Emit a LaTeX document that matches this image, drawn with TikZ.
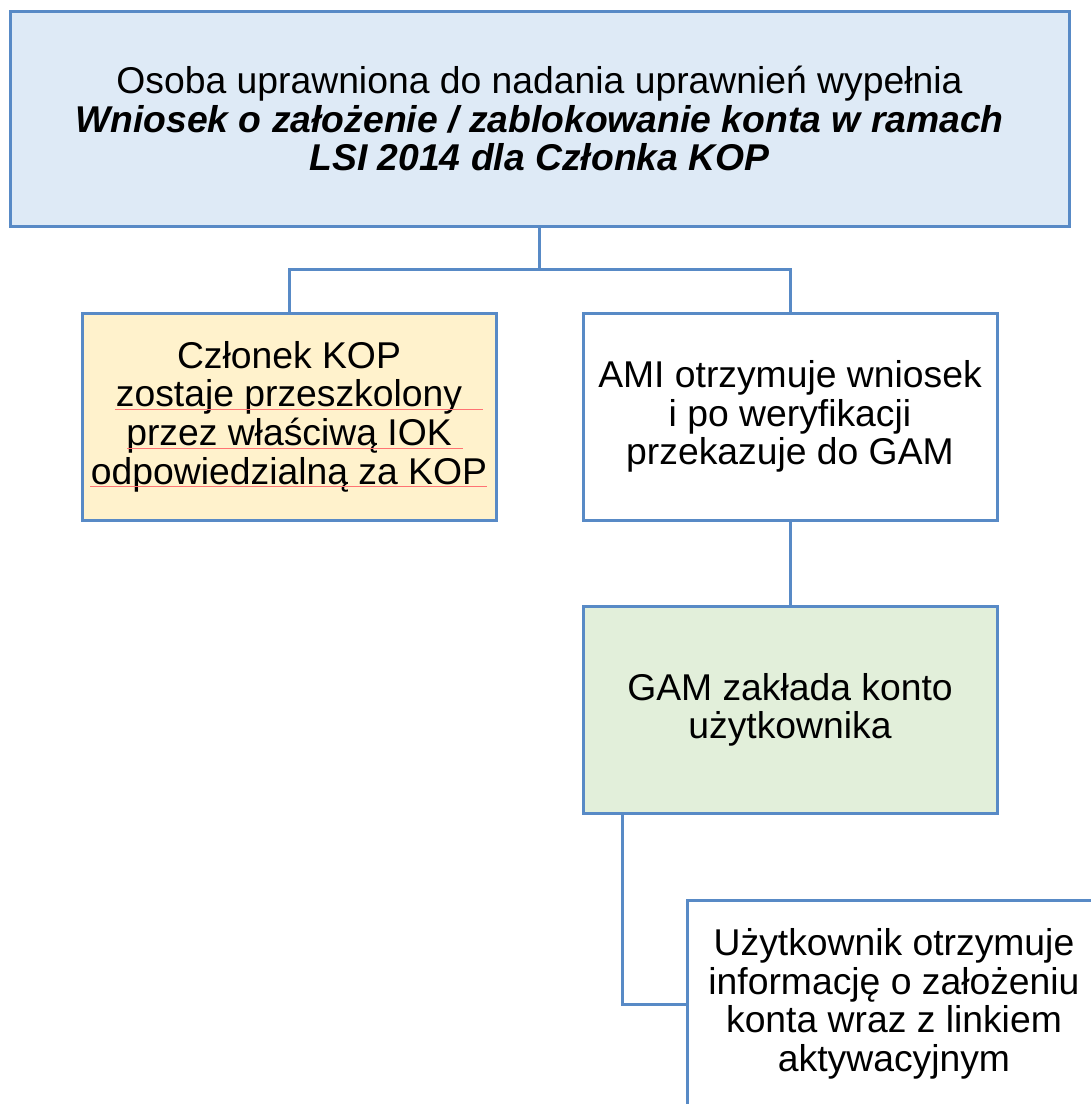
\documentclass[tikz,border=0pt]{standalone}
\usepackage{fontspec}
\setmainfont{Liberation Sans}

\definecolor{orgframe}{RGB}{88,138,198}
\definecolor{orgblue}{RGB}{222,234,246}
\definecolor{orgyellow}{RGB}{255,242,204}
\definecolor{orggreen}{RGB}{226,239,218}

\tikzset{
    orgbox/.style={draw=orgframe, line width=1.5pt, fill=white,
        minimum width=207pt, minimum height=103.5pt, inner sep=0pt,
        align=center, font=\fontsize{18.65}{19.3}\selectfont},
    link/.style={draw=orgframe, line width=1.5pt},
    squiggle/.style={draw=red!55!white, line width=0.4pt}
}

\begin{document}
\begin{tikzpicture}[x=0.5pt, y=-0.5pt]
    \useasboundingbox (0,0) rectangle (1091,1104);
    \clip (0,0) rectangle (1091,1104);

    % boxes
    \node[orgbox, fill=orgblue, minimum width=529.5pt, minimum height=107.5pt] (wniosek) at (539.5,118.5)
        {Osoba uprawniona do nadania uprawnień wypełnia\\
         {\bfseries\itshape Wniosek o założenie / zablokowanie konta w ramach}\\
         {\bfseries\itshape LSI 2014 dla Członka KOP}};
    \node[orgbox, fill=orgyellow] (kop) at (289,416.5)
        {Członek KOP\\ zostaje przeszkolony\\ przez właściwą IOK\\ odpowiedzialną za KOP};
    \node[orgbox] (ami) at (790,416.5)
        {AMI otrzymuje wniosek\\ i po weryfikacji\\ przekazuje do GAM};
    \node[orgbox, fill=orggreen] (gam) at (790,710)
        {GAM zakłada konto\\ użytkownika};
    \node[orgbox] (user) at (894,1004)
        {Użytkownik otrzymuje\\ informację o założeniu\\ konta wraz z linkiem\\ aktywacyjnym};

    % spelling marks
    \draw[squiggle] (115,409) -- (483,409);
    \draw[squiggle] (127,448) -- (463,448);
    \draw[squiggle] (90,486) -- (487,486);

    % connectors
    \coordinate (fork) at (539.5,269);
    \draw[link] (wniosek.south) -- (fork);
    \draw[link] (fork) -| (kop.north);
    \draw[link] (fork) -| (ami.north);
    \draw[link] (ami.south) -- (gam.north);
    \draw[link] ([xshift=20.5pt]gam.south west) |- (user.west);
\end{tikzpicture}
\end{document}
